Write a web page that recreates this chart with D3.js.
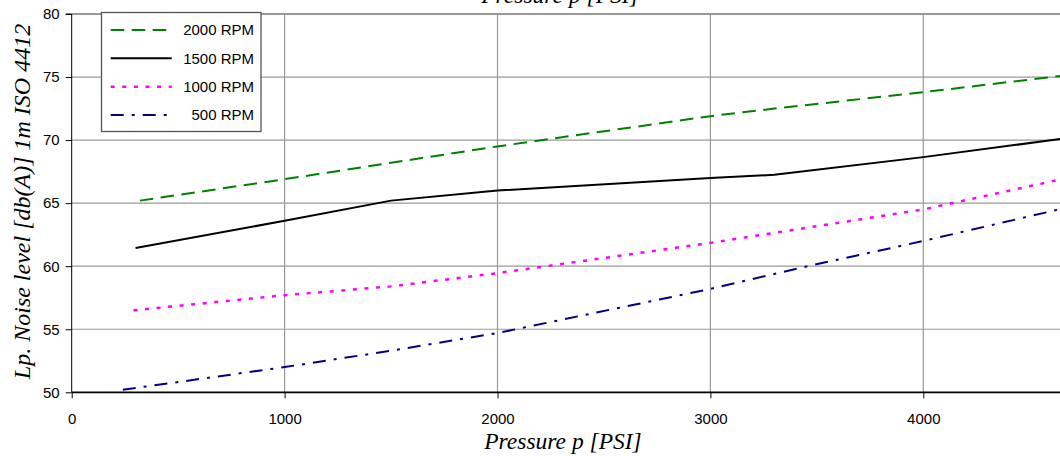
<!DOCTYPE html>
<html>
<head>
<meta charset="utf-8">
<script src="https://cdn.jsdelivr.net/npm/d3@7"></script>
<style>
  html, body { margin: 0; padding: 0; background: #fff; }
  svg { display: block; }
</style>
</head>
<body>
<svg id="chart" width="1060" height="456"></svg>
<script>
// ---- data ----
const seriesNames = ["2000 RPM", "1500 RPM", "1000 RPM", "500 RPM"];
const rpm2000Pressure = [320, 1000, 1500, 2000, 3000, 3300, 4000, 4650];
const rpm2000Noise    = [65.2, 66.9, 68.2, 69.5, 71.9, 72.5, 73.8, 75.1];
const rpm1500Pressure = [300, 1000, 1500, 2000, 3000, 3300, 4000, 4650];
const rpm1500Noise    = [61.45, 63.6, 65.2, 66.0, 67.0, 67.25, 68.65, 70.1];
const rpm1000Pressure = [290, 1000, 1500, 2000, 3000, 4000, 4650];
const rpm1000Noise    = [56.5, 57.7, 58.4, 59.45, 61.85, 64.5, 66.9];
const rpm500Pressure  = [240, 1000, 1500, 2000, 3000, 3430, 4000, 4650];
const rpm500Noise     = [50.2, 52.0, 53.3, 54.7, 58.2, 59.9, 62.0, 64.55];
const xTicks = [0, 1000, 2000, 3000, 4000];
const yTicks = [50, 55, 60, 65, 70, 75, 80];
const xTitle = "Pressure p [PSI]";
const yTitle = "Lp. Noise level [db(A)] 1m ISO 4412";

(function () {
// ---- layout ----
const svg = d3.select("#chart");
const plotLeft = 71.7, plotBottom = 392.3, plotTop = 14;
const x = d3.scaleLinear().domain([0, 5000]).range([plotLeft, plotLeft + 1064.5]);
const y = d3.scaleLinear().domain([50, 80]).range([plotBottom, plotTop]);

const series = [
  { name: seriesNames[0], p: rpm2000Pressure, v: rpm2000Noise, color: "#008000", dash: "13.5,7.5", w: 2 },
  { name: seriesNames[1], p: rpm1500Pressure, v: rpm1500Noise, color: "#000000", dash: null, w: 2 },
  { name: seriesNames[2], p: rpm1000Pressure, v: rpm1000Noise, color: "#ff00ff", dash: "4,7.6", w: 2.5 },
  { name: seriesNames[3], p: rpm500Pressure,  v: rpm500Noise,  color: "#000080", dash: "13,8,3,8", w: 2 }
];

const gridColor = "#999999";
// horizontal gridlines
svg.append("g").selectAll("line").data(yTicks.filter(t => t > 50)).join("line")
  .attr("x1", plotLeft).attr("x2", 1060)
  .attr("y1", d => y(d)).attr("y2", d => y(d))
  .attr("stroke", gridColor)
  .attr("stroke-width", d => d === 80 ? 2 : 1.2);
// vertical gridlines
svg.append("g").selectAll("line").data(xTicks.filter(t => t > 0)).join("line")
  .attr("x1", d => x(d)).attr("x2", d => x(d))
  .attr("y1", plotTop).attr("y2", plotBottom)
  .attr("stroke", gridColor).attr("stroke-width", 1.2);

// lines
const line = d3.line().x(d => x(d[0])).y(d => y(d[1]));
series.forEach(s => {
  const pts = s.p.map((p, i) => [p, s.v[i]]);
  svg.append("path").datum(pts)
    .attr("d", line)
    .attr("fill", "none")
    .attr("stroke", s.color)
    .attr("stroke-width", s.w)
    .attr("stroke-dasharray", s.dash)
    .attr("stroke-linejoin", "round");
});

// axes
const yAxis = d3.axisLeft(y).tickValues(yTicks).tickSize(6).tickPadding(6).tickFormat(d3.format("d"));
const gy = svg.append("g").attr("transform", `translate(${plotLeft},0)`).call(yAxis);
const xAxis = d3.axisBottom(x).tickValues(xTicks).tickSize(6).tickPadding(15).tickFormat(d3.format("d"));
const gx = svg.append("g").attr("transform", `translate(0,${plotBottom})`).call(xAxis);
[gx, gy].forEach(g => {
  g.selectAll("text").attr("font-family", "'Liberation Sans', Arial, sans-serif")
    .attr("font-size", 15).attr("fill", "#000");
  g.selectAll("line").attr("stroke", "#000");
  g.select(".domain").attr("stroke", "#000");
});
gy.select(".domain").attr("d", `M-6,${y(80)}H0V${plotBottom}`);
gx.select(".domain").attr("d", `M${plotLeft},0H1060`).attr("stroke-width", 1.8);

// legend
const lg = svg.append("g");
lg.append("rect").attr("x", 101.5).attr("y", 12.5).attr("width", 159.5).attr("height", 119)
  .attr("fill", "#fff").attr("stroke", "#555").attr("stroke-width", 1.3);
const rowY = [30, 58.3, 86.7, 115];
series.forEach((s, i) => {
  lg.append("line").attr("x1", 110.7).attr("x2", 171.7)
    .attr("y1", rowY[i]).attr("y2", rowY[i])
    .attr("stroke", s.color).attr("stroke-width", s.w)
    .attr("stroke-dasharray", s.dash);
  lg.append("text").attr("x", 254).attr("y", rowY[i] + 5.3)
    .attr("text-anchor", "end")
    .attr("font-family", "'Liberation Sans', Arial, sans-serif")
    .attr("font-size", 15).text(s.name);
});

// titles
const serif = "'Liberation Serif', 'Times New Roman', serif";
svg.append("text").attr("x", 560).attr("y", 3).attr("text-anchor", "middle")
  .attr("font-family", serif).attr("font-style", "italic").attr("font-size", 23.5).text(xTitle);
svg.append("text").attr("x", 563).attr("y", 449).attr("text-anchor", "middle")
  .attr("font-family", serif).attr("font-style", "italic").attr("font-size", 23.5).text(xTitle);
svg.append("text").attr("transform", "translate(30,201.5) rotate(-90)").attr("text-anchor", "middle")
  .attr("font-family", serif).attr("font-style", "italic").attr("font-size", 24).text(yTitle);
})();
</script>
</body>
</html>
